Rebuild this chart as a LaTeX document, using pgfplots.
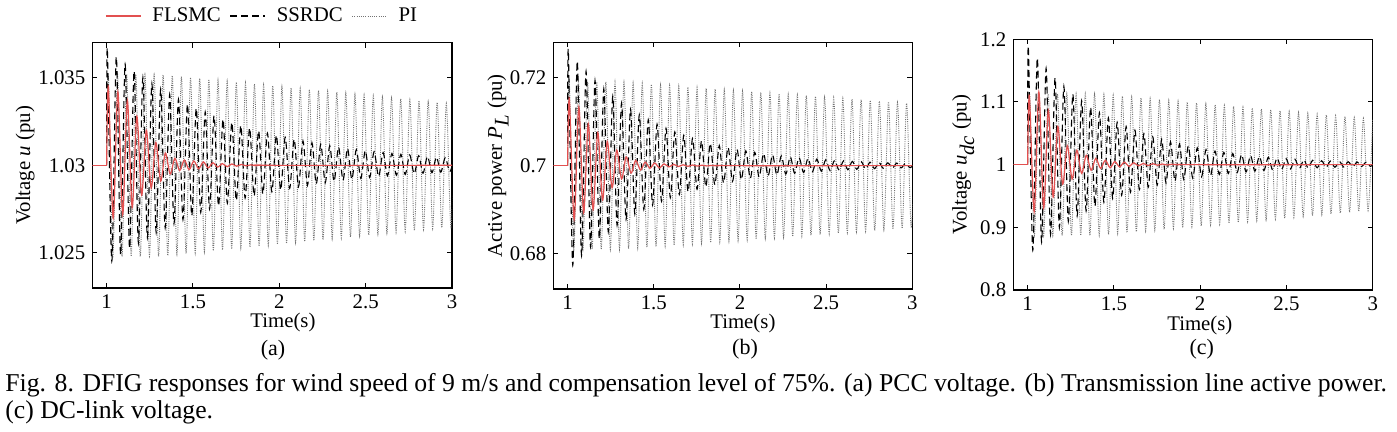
\documentclass[border=0pt]{standalone}
\usepackage{fontspec}
\setmainfont{Liberation Serif}
\usepackage{pgfplots}
\pgfplotsset{compat=1.18}
\definecolor{flsmcred}{RGB}{226,80,80}
\tikzset{
 flsmc/.style={color=flsmcred, line width=0.6pt, solid},
 ssrdc/.style={color=black, line width=0.55pt, dash pattern=on 3.5pt off 2pt},
 pistyle/.style={color=black!55, line width=0.45pt, dash pattern=on 0.5pt off 0.6pt},
}
\pgfplotsset{panel/.style={
  scale only axis, anchor=south west, xmin=0.917, xmax=3,
  xtick={1,1.5,2,2.5,3}, xticklabels={1,1.5,2,2.5,3},
  tick align=inside, major tick length=2.5pt,
  every tick/.style={black, line width=0.5pt},
  axis line style={black, line width=0.75pt},
  tick label style={font=\fontsize{10.4}{12}\selectfont},
  label style={font=\fontsize{10.4}{12}\selectfont},
  xlabel={Time(s)},
  clip=true,
}}
\begin{document}
\begin{tikzpicture}
\useasboundingbox (0,0) rectangle (698.5pt,216pt);
% ---------------- (a)
\begin{axis}[panel, at={(46.15pt,72pt)}, width=179.85pt, height=122.65pt,
  ymin=1.023, ymax=1.037, ytick={1.025,1.03,1.035}, yticklabels={1.025,1.03,1.035},
  ylabel={Voltage \textit{u} (pu)},
  xlabel style={at={(axis description cs:0.53,-0.1427)}, anchor=center},
  ylabel style={at={(axis description cs:-0.187,0.5)}, anchor=center},
  legend style={at={(axis description cs:0.035,1.109)}, anchor=west, draw=none, fill=none, inner sep=0pt,
    nodes={inner sep=0pt},
    font=\fontsize{10.4}{12}\selectfont},
  legend columns=3,
  legend image code/.code={\draw[#1] (0pt,0pt) -- (17.5pt,0pt);}]
\addlegendimage{flsmc}\addlegendentry{\rule{5.5pt}{0pt}FLSMC\rule{4.5pt}{0pt}}
\addlegendimage{ssrdc}\addlegendentry{\rule{5.5pt}{0pt}SSRDC\rule{4.5pt}{0pt}}
\addlegendimage{pistyle}\addlegendentry{\rule{5.5pt}{0pt}PI}
\addplot[pistyle, smooth, forget plot] coordinates {(1.000,1.03) (1.010,1.0352) (1.036,1.0248) (1.063,1.0352) (1.089,1.0248) (1.116,1.0352) (1.142,1.0248) (1.169,1.0352) (1.195,1.0248) (1.222,1.0352) (1.248,1.0248) (1.275,1.0352) (1.301,1.0248) (1.327,1.03517) (1.354,1.02485) (1.380,1.03512) (1.407,1.02491) (1.433,1.03507) (1.460,1.02496) (1.486,1.03501) (1.513,1.02501) (1.539,1.03496) (1.566,1.02507) (1.592,1.03491) (1.618,1.02512) (1.645,1.03486) (1.671,1.02517) (1.698,1.0348) (1.724,1.02522) (1.751,1.03475) (1.777,1.02528) (1.804,1.0347) (1.830,1.02533) (1.856,1.03464) (1.883,1.02538) (1.909,1.03459) (1.936,1.02544) (1.962,1.03454) (1.989,1.02549) (2.015,1.03449) (2.042,1.02554) (2.068,1.03443) (2.094,1.02559) (2.121,1.03438) (2.147,1.02565) (2.174,1.03433) (2.200,1.0257) (2.227,1.03427) (2.253,1.02575) (2.280,1.03422) (2.306,1.02581) (2.333,1.03417) (2.359,1.02586) (2.385,1.03412) (2.412,1.02591) (2.438,1.03406) (2.465,1.02596) (2.491,1.03401) (2.518,1.02602) (2.544,1.03396) (2.571,1.02607) (2.597,1.0339) (2.623,1.02612) (2.650,1.03385) (2.676,1.02618) (2.703,1.0338) (2.729,1.02623) (2.756,1.03374) (2.782,1.02628) (2.809,1.03369) (2.835,1.02634) (2.862,1.03364) (2.888,1.02639) (2.914,1.03359) (2.941,1.02644) (2.967,1.03353) (2.994,1.02649) (3.020,1.03348)};
\addplot[ssrdc, smooth, forget plot] coordinates {(1.000,1.03) (1.004,1.03666) (1.030,1.02453) (1.056,1.03620) (1.081,1.02491) (1.107,1.03578) (1.133,1.02526) (1.159,1.03538) (1.184,1.02558) (1.210,1.03501) (1.236,1.02589) (1.262,1.03466) (1.287,1.02617) (1.313,1.03434) (1.339,1.02644) (1.365,1.03404) (1.390,1.02668) (1.416,1.03376) (1.442,1.02691) (1.468,1.03350) (1.493,1.02712) (1.519,1.03326) (1.545,1.02732) (1.571,1.03304) (1.596,1.02751) (1.622,1.03283) (1.648,1.02768) (1.674,1.03263) (1.699,1.02784) (1.725,1.03245) (1.751,1.02799) (1.777,1.03228) (1.802,1.02813) (1.828,1.03213) (1.854,1.02825) (1.880,1.03198) (1.905,1.02837) (1.931,1.03184) (1.957,1.02849) (1.983,1.03172) (2.008,1.02859) (2.034,1.03160) (2.060,1.02869) (2.086,1.03149) (2.111,1.02878) (2.137,1.03139) (2.163,1.02886) (2.189,1.03129) (2.214,1.02894) (2.240,1.03120) (2.266,1.02901) (2.292,1.03112) (2.317,1.02908) (2.343,1.03104) (2.369,1.02915) (2.395,1.03097) (2.420,1.02920) (2.446,1.03090) (2.472,1.02926) (2.498,1.03084) (2.523,1.02931) (2.549,1.03078) (2.575,1.02936) (2.601,1.03073) (2.626,1.02940) (2.652,1.03068) (2.678,1.02944) (2.704,1.03063) (2.729,1.02948) (2.755,1.03059) (2.781,1.02952) (2.807,1.03055) (2.832,1.02955) (2.858,1.03051) (2.884,1.02958) (2.910,1.03047) (2.935,1.02961) (2.961,1.03044) (2.987,1.02964) (3.013,1.03041)};
\addplot[flsmc, forget plot] coordinates {(0.900,1.03) (1.000,1.03)};
\addplot[flsmc, smooth, forget plot] coordinates {(1.000,1.03) (1.010,1.0345) (1.038,1.0270) (1.065,1.0342) (1.093,1.0272) (1.120,1.0337) (1.148,1.0276) (1.175,1.0328) (1.203,1.0283) (1.230,1.0320) (1.258,1.0287) (1.285,1.0313) (1.313,1.0291) (1.340,1.0307) (1.368,1.0295) (1.395,1.0304) (1.423,1.0297) (1.450,1.0303) (1.478,1.02975) (1.505,1.03025) (1.533,1.0298) (1.560,1.0302) (1.588,1.02985) (1.615,1.03015) (1.643,1.0299) (1.670,1.0301) (1.698,1.02992) (1.725,1.03008) (1.753,1.02995) (1.780,1.03005) (1.808,1.02997) (1.835,1.03003) (1.863,1.02998) (1.890,1.03002) (1.918,1.03) (3.0,1.03)};
\end{axis}
% ---------------- (b)
\begin{axis}[panel, at={(276.65pt,71.5pt)}, width=179.5pt, height=123.35pt,
  ymin=0.672, ymax=0.728, ytick={0.68,0.7,0.72}, yticklabels={0.68,0.7,0.72},
  ylabel={Active power \textit{P}$_{\textit{L}}$ (pu)},
  xlabel style={at={(axis description cs:0.528,-0.139)}, anchor=center},
  ylabel style={at={(axis description cs:-0.154,0.5)}, anchor=center}]
\addplot[pistyle, smooth] coordinates {(1.000,0.70) (1.010,0.7190) (1.036,0.6810) (1.063,0.7190) (1.089,0.6810) (1.116,0.7190) (1.142,0.6810) (1.169,0.7190) (1.195,0.6810) (1.222,0.7190) (1.248,0.6810) (1.275,0.7190) (1.301,0.6810) (1.327,0.71892) (1.354,0.68116) (1.380,0.71877) (1.407,0.68131) (1.433,0.71862) (1.460,0.68146) (1.486,0.71846) (1.513,0.68161) (1.539,0.71831) (1.566,0.68177) (1.592,0.71816) (1.618,0.68192) (1.645,0.71801) (1.671,0.68207) (1.698,0.71785) (1.724,0.68222) (1.751,0.7177) (1.777,0.68237) (1.804,0.71755) (1.830,0.68253) (1.856,0.7174) (1.883,0.68268) (1.909,0.71725) (1.936,0.68283) (1.962,0.71709) (1.989,0.68298) (2.015,0.71694) (2.042,0.68314) (2.068,0.71679) (2.094,0.68329) (2.121,0.71664) (2.147,0.68344) (2.174,0.71648) (2.200,0.68359) (2.227,0.71633) (2.253,0.68374) (2.280,0.71618) (2.306,0.6839) (2.333,0.71603) (2.359,0.68405) (2.385,0.71588) (2.412,0.6842) (2.438,0.71572) (2.465,0.68436) (2.491,0.71557) (2.518,0.68451) (2.544,0.71542) (2.571,0.68466) (2.597,0.71526) (2.623,0.68481) (2.650,0.71511) (2.676,0.68496) (2.703,0.71496) (2.729,0.68512) (2.756,0.71481) (2.782,0.68527) (2.809,0.71465) (2.835,0.68542) (2.862,0.7145) (2.888,0.68557) (2.914,0.71435) (2.941,0.68573) (2.967,0.7142) (2.994,0.68588) (3.020,0.71405)};
\addplot[ssrdc, smooth] coordinates {(1.000,0.70) (1.004,0.72629) (1.030,0.67739) (1.056,0.72372) (1.081,0.67960) (1.107,0.72140) (1.133,0.68160) (1.159,0.71930) (1.184,0.68340) (1.210,0.71741) (1.236,0.68502) (1.262,0.71571) (1.287,0.68649) (1.313,0.71417) (1.339,0.68781) (1.365,0.71278) (1.390,0.68900) (1.416,0.71153) (1.442,0.69008) (1.468,0.71040) (1.493,0.69105) (1.519,0.70939) (1.545,0.69193) (1.571,0.70847) (1.596,0.69272) (1.622,0.70764) (1.648,0.69343) (1.674,0.70689) (1.699,0.69407) (1.725,0.70622) (1.751,0.69465) (1.777,0.70561) (1.802,0.69518) (1.828,0.70506) (1.854,0.69565) (1.880,0.70456) (1.905,0.69607) (1.931,0.70412) (1.957,0.69646) (1.983,0.70371) (2.008,0.69681) (2.034,0.70335) (2.060,0.69712) (2.086,0.70302) (2.111,0.69740) (2.137,0.70273) (2.163,0.69765) (2.189,0.70246) (2.214,0.69788) (2.240,0.70222) (2.266,0.69809) (2.292,0.70200) (2.317,0.69828) (2.343,0.70181) (2.369,0.69845) (2.395,0.70163) (2.420,0.69860) (2.446,0.70147) (2.472,0.69874) (2.498,0.70133) (2.523,0.69886) (2.549,0.70120) (2.575,0.69897) (2.601,0.70108) (2.626,0.69907) (2.652,0.70097) (2.678,0.69916) (2.704,0.70088) (2.729,0.69924) (2.755,0.70079) (2.781,0.69932) (2.807,0.70071) (2.832,0.69939) (2.858,0.70064) (2.884,0.69945) (2.910,0.70058) (2.935,0.69950) (2.961,0.70052) (2.987,0.69955) (3.013,0.70047)};
\addplot[flsmc] coordinates {(0.900,0.70) (1.000,0.70)};
\addplot[flsmc, smooth] coordinates {(1.000,0.70) (1.010,0.7152) (1.038,0.6878) (1.065,0.7133) (1.093,0.6893) (1.120,0.7095) (1.148,0.6900) (1.175,0.7075) (1.203,0.6922) (1.230,0.7055) (1.258,0.6950) (1.285,0.7035) (1.313,0.6970) (1.340,0.7020) (1.368,0.6983) (1.395,0.7012) (1.423,0.6990) (1.450,0.7008) (1.478,0.6994) (1.505,0.7006) (1.533,0.6995) (1.560,0.7004) (1.588,0.6997) (1.615,0.7003) (1.643,0.6998) (1.670,0.7002) (1.698,0.69985) (1.725,0.70015) (1.753,0.6999) (1.780,0.7001) (1.808,0.69993) (1.835,0.70005) (1.863,0.69997) (1.890,0.70003) (1.918,0.70) (3.0,0.70)};
\end{axis}
% ---------------- (c)
\begin{axis}[panel, at={(506.65pt,71pt)}, width=179.7pt, height=125.35pt,
  ymin=0.8, ymax=1.2, ytick={0.8,0.9,1,1.1,1.2}, yticklabels={0.8,0.9,1,1.1,1.2},
  ylabel={Voltage \textit{u}$_{\textit{dc}}$ (pu)},
  xlabel style={at={(axis description cs:0.519,-0.141)}, anchor=center},
  ylabel style={at={(axis description cs:-0.139,0.5)}, anchor=center}]
\addplot[pistyle, smooth] coordinates {(1.000,1.0) (1.012,1.113) (1.039,0.887) (1.066,1.113) (1.093,0.887) (1.119,1.113) (1.146,0.887) (1.173,1.113) (1.200,0.887) (1.227,1.113) (1.254,0.887) (1.281,1.113) (1.308,0.887) (1.334,1.113) (1.361,0.887) (1.388,1.113) (1.415,0.8874) (1.442,1.1119) (1.469,0.8887) (1.496,1.1106) (1.522,0.8901) (1.549,1.1092) (1.576,0.8915) (1.603,1.1079) (1.630,0.8928) (1.657,1.1065) (1.684,0.8942) (1.710,1.1052) (1.737,0.8955) (1.764,1.1038) (1.791,0.8969) (1.818,1.1024) (1.845,0.8983) (1.872,1.1011) (1.899,0.8996) (1.925,1.0997) (1.952,0.9010) (1.979,1.0984) (2.006,0.9023) (2.033,1.0970) (2.060,0.9037) (2.087,1.0956) (2.113,0.9050) (2.140,1.0943) (2.167,0.9064) (2.194,1.0929) (2.221,0.9078) (2.248,1.0915) (2.275,0.9091) (2.302,1.0902) (2.328,0.9105) (2.355,1.0888) (2.382,0.9118) (2.409,1.0875) (2.436,0.9132) (2.463,1.0861) (2.490,0.9146) (2.516,1.0848) (2.543,0.9159) (2.570,1.0834) (2.597,0.9173) (2.624,1.0820) (2.651,0.9187) (2.678,1.0807) (2.705,0.9200) (2.731,1.0793) (2.758,0.9214) (2.785,1.0780) (2.812,0.9227) (2.839,1.0766) (2.866,0.9241) (2.893,1.0752) (2.919,0.9254) (2.946,1.0739) (2.973,0.9268) (3.000,1.0725)};
\addplot[ssrdc, smooth] coordinates {(1.000,1.0) (1.004,1.1885) (1.030,0.86338) (1.056,1.17004) (1.081,0.87675) (1.107,1.15340) (1.133,0.88881) (1.159,1.13838) (1.184,0.89969) (1.210,1.12484) (1.236,0.90951) (1.262,1.11262) (1.287,0.91837) (1.313,1.10160) (1.339,0.92636) (1.365,1.09165) (1.390,0.93356) (1.416,1.08268) (1.442,0.94007) (1.468,1.07459) (1.493,0.94593) (1.519,1.06729) (1.545,0.95122) (1.571,1.06071) (1.596,0.95600) (1.622,1.05476) (1.648,0.96031) (1.674,1.04940) (1.699,0.96419) (1.725,1.04457) (1.751,0.96769) (1.777,1.04021) (1.802,0.97086) (1.828,1.03627) (1.854,0.97371) (1.880,1.03272) (1.905,0.97628) (1.931,1.02952) (1.957,0.97860) (1.983,1.02663) (2.008,0.98070) (2.034,1.02402) (2.060,0.98259) (2.086,1.02167) (2.111,0.98429) (2.137,1.01955) (2.163,0.98583) (2.189,1.01764) (2.214,0.98722) (2.240,1.01591) (2.266,0.98847) (2.292,1.01435) (2.317,0.98960) (2.343,1.01295) (2.369,0.99061) (2.395,1.01168) (2.420,0.99153) (2.446,1.01054) (2.472,0.99236) (2.498,1.00951) (2.523,0.99311) (2.549,1.00858) (2.575,0.99378) (2.601,1.00774) (2.626,0.99439) (2.652,1.00698) (2.678,0.99494) (2.704,1.00630) (2.729,0.99544) (2.755,1.00568) (2.781,0.99588) (2.807,1.00512) (2.832,0.99629) (2.858,1.00462) (2.884,0.99665) (2.910,1.00417) (2.935,0.99698) (2.961,1.00376) (2.987,0.99727) (3.013,1.00339)};
\addplot[flsmc] coordinates {(0.900,1.0) (1.000,1.0)};
\addplot[flsmc, smooth] coordinates {(1.000,1.0) (1.010,1.110) (1.038,0.925) (1.065,1.116) (1.093,0.931) (1.120,1.087) (1.148,0.948) (1.175,1.061) (1.203,0.969) (1.230,1.030) (1.258,0.977) (1.285,1.023) (1.313,0.986) (1.340,1.015) (1.368,0.991) (1.395,1.010) (1.423,0.994) (1.450,1.007) (1.478,0.995) (1.505,1.005) (1.533,0.9965) (1.560,1.004) (1.588,0.9972) (1.615,1.003) (1.643,0.998) (1.670,1.002) (1.698,0.9985) (1.725,1.0015) (1.753,0.999) (1.780,1.001) (1.808,0.9994) (1.835,1.0006) (1.863,0.9997) (1.890,1.0003) (1.918,1.0) (3.0,1.0)};
\end{axis}
% ---------------- sub-labels and caption
\node[font=\fontsize{11}{13}\selectfont] at (136.5pt,41pt) {(a)};
\node[font=\fontsize{11}{13}\selectfont] at (372.5pt,41.5pt) {(b)};
\node[font=\fontsize{11}{13}\selectfont] at (600.85pt,41.5pt) {(c)};
\node[anchor=base west, inner sep=0pt, font=\fontsize{12.85}{14}\selectfont] at (2.5pt,20pt) {Fig. 8. DFIG responses for wind speed of 9 m/s and compensation level of 75\%. (a) PCC voltage. (b) Transmission line active power.};
\node[anchor=base west, inner sep=0pt, font=\fontsize{12.85}{14}\selectfont] at (2.5pt,6.5pt) {(c) DC-link voltage.};
\end{tikzpicture}
\end{document}
